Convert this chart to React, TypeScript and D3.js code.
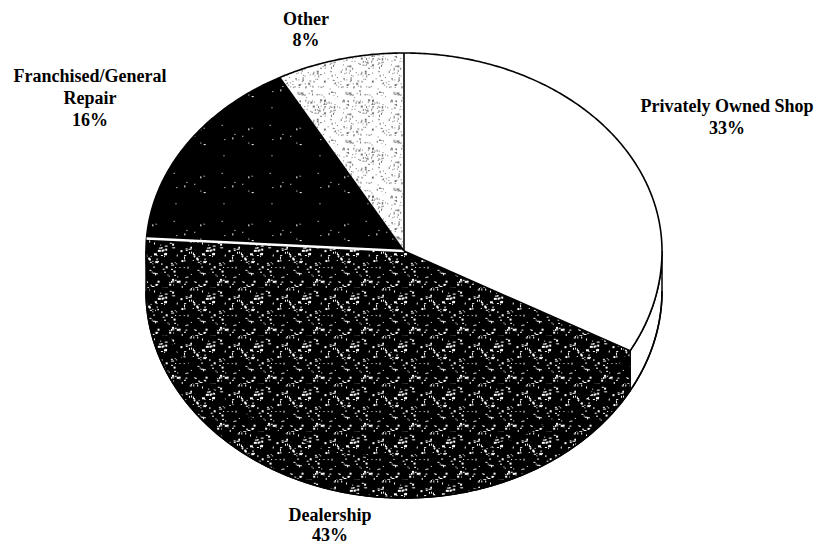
import React from 'react';
import * as d3 from 'd3';

// Repair facility share
const categories = ['Privately Owned Shop', 'Dealership', 'Franchised/General Repair', 'Other'];
const shares = [33, 43, 16, 8];
const labelLines = [
  ['Privately Owned Shop', '33%'],
  ['Dealership', '43%'],
  ['Franchised/General', 'Repair', '16%'],
  ['Other', '8%'],
];
const fills = ['#ffffff', 'url(#pat-dealer)', 'url(#pat-franch)', 'url(#pat-other)'];

// label anchors (centre x, first baseline y, line gap)
const labelPos = [
  [727, 112, 22],
  [330, 521, 20],
  [90, 82, 22],
  [306, 25, 21],
];

const W = 820;
const H = 547;
const cx = 404;
const cy = 251;
const rx = 258;
const ryTop = 198;
const ryBot = 207;
const depth = 40;

// small deterministic speckle generator for the textures
function speckles(seed: number, n: number, size: number, maxW: number) {
  let s = seed >>> 0;
  const next = () => {
    s = (Math.imul(s, 1664525) + 1013904223) >>> 0;
    return s / 4294967296;
  };
  const out: { x: number; y: number; w: number; h: number }[] = [];
  for (let i = 0; i < n; i++) {
    out.push({
      x: next() * size,
      y: next() * size,
      w: 1 + Math.floor(next() * maxW),
      h: 1 + Math.floor(next() * 1.4),
    });
  }
  return out;
}

const dealerDots = speckles(7, 100, 48, 2.4);
const franchDots = speckles(19, 10, 48, 1.6);
const otherDots = speckles(31, 170, 48, 1.2);

function pt(a: number): [number, number] {
  const c = Math.cos(a);
  return [cx + rx * Math.sin(a), cy - (c >= 0 ? ryTop : ryBot) * c];
}

function rim(a0: number, a1: number) {
  const n = Math.max(2, Math.ceil(Math.abs(a1 - a0) / 0.01));
  return d3.range(n + 1).map((i) => pt(a0 + ((a1 - a0) * i) / n));
}

const line = d3.line();

export default function App() {
  const pie = d3.pie<number>().sort(null).startAngle(0).endAngle(2 * Math.PI);
  const arcs = pie(shares);

  const tops = arcs.map((d) => {
    const pts: [number, number][] = [[cx, cy], ...rim(d.startAngle, d.endAngle)];
    return line(pts) + 'Z';
  });

  const sides = arcs.map((d) => {
    const lo = Math.max(d.startAngle, Math.PI / 2);
    const hi = Math.min(d.endAngle, (3 * Math.PI) / 2);
    if (lo >= hi) return null;
    const upper = rim(lo, hi);
    const lower = upper.map(([x, y]) => [x, y + depth] as [number, number]).reverse();
    return line([...upper, ...lower]) + 'Z';
  });

  const bottomRim = line(rim(Math.PI / 2, (3 * Math.PI) / 2).map(([x, y]) => [x, y + depth] as [number, number]));
  const fullRim = line(rim(0, 2 * Math.PI)) + 'Z';

  return (
    <svg width={W} height={H} style={{ position: 'fixed', left: 0, top: 0, background: '#fff' }}>
      <defs>
        <pattern id="pat-dealer" patternUnits="userSpaceOnUse" width={48} height={48}>
          <rect width={48} height={48} fill="#000" />
          {dealerDots.map((p, i) => (
            <rect key={i} x={p.x} y={p.y} width={p.w} height={p.h} fill="#fff" />
          ))}
        </pattern>
        <pattern id="pat-franch" patternUnits="userSpaceOnUse" width={48} height={48}>
          <rect width={48} height={48} fill="#000" />
          {franchDots.map((p, i) => (
            <rect key={i} x={p.x} y={p.y} width={p.w} height={p.h} fill="#fff" />
          ))}
        </pattern>
        <pattern id="pat-other" patternUnits="userSpaceOnUse" width={48} height={48}>
          <rect width={48} height={48} fill="#fff" />
          {otherDots.map((p, i) => (
            <rect key={i} x={p.x} y={p.y} width={p.w} height={p.h} fill="#777" />
          ))}
        </pattern>
      </defs>

      {/* side walls */}
      {sides.map((p, i) =>
        p ? <path key={'s' + i} d={p} fill={fills[i]} stroke="#000" strokeWidth={1.5} /> : null
      )}
      <path d={bottomRim!} fill="none" stroke="#000" strokeWidth={1.6} />

      {/* top faces */}
      {tops.map((p, i) => (
        <path key={'t' + i} d={p} fill={fills[i]} stroke="none" />
      ))}
      <path d={fullRim} fill="none" stroke="#000" strokeWidth={1.6} />

      {/* slice boundaries */}
      {arcs.map((d, i) => {
        const [x, y] = pt(d.startAngle);
        const white = categories[i] === 'Franchised/General Repair';
        return (
          <line
            key={'b' + i}
            x1={cx}
            y1={cy}
            x2={x}
            y2={y}
            stroke={white ? '#fff' : '#000'}
            strokeWidth={white ? 2.5 : 1.6}
          />
        );
      })}

      {/* labels */}
      {labelLines.map((lines, i) => (
        <text
          key={'l' + i}
          x={labelPos[i][0]}
          y={labelPos[i][1]}
          textAnchor="middle"
          fontFamily="'Liberation Serif', 'DejaVu Serif', serif"
          fontWeight="bold"
          fontSize={18}
          fill="#000"
        >
          {lines.map((t, j) => (
            <tspan key={j} x={labelPos[i][0]} dy={j === 0 ? 0 : labelPos[i][2]}>
              {t}
            </tspan>
          ))}
        </text>
      ))}
    </svg>
  );
}
